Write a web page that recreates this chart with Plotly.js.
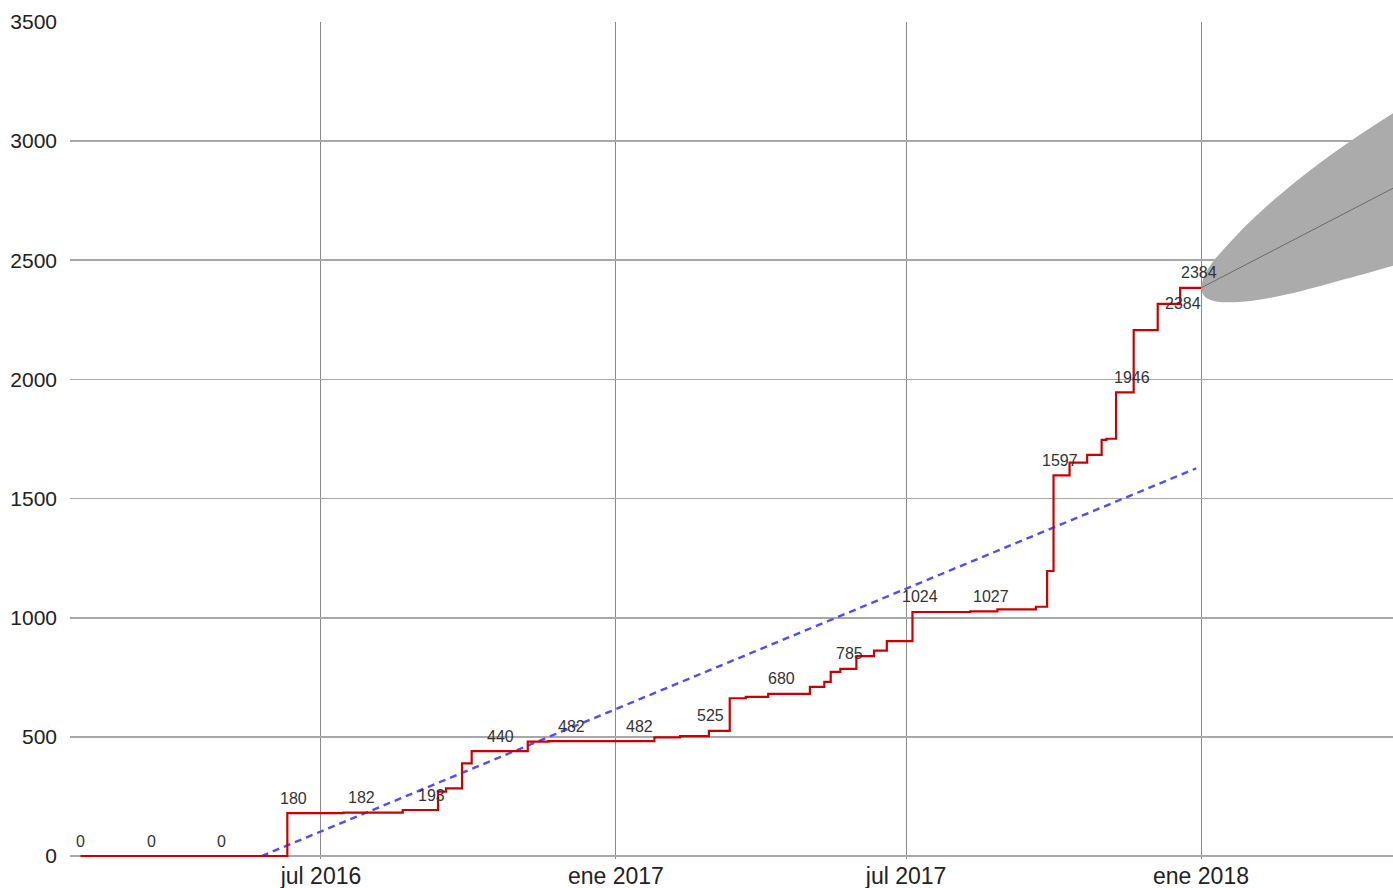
<!DOCTYPE html>
<html>
<head>
<meta charset="utf-8">
<script src="https://cdn.plot.ly/plotly-3.0.1.min.js"></script>
<style>html,body{margin:0;padding:0;background:#fff;}#chart{width:1393px;height:888px;}</style>
</head>
<body>
<div id="chart"></div>
<script>
// Cumulative series (step points: date where the value changes, new value)
const stepDates = ['2016-02-02','2016-06-10','2016-07-15','2016-08-21','2016-09-12','2016-09-17','2016-09-27','2016-10-03','2016-11-07','2016-11-20','2017-01-25','2017-02-10','2017-02-28','2017-03-13','2017-03-23','2017-04-06','2017-05-02','2017-05-11','2017-05-15','2017-05-21','2017-05-31','2017-06-11','2017-06-19','2017-07-05','2017-08-10','2017-08-27','2017-09-20','2017-09-27','2017-10-01','2017-10-11','2017-10-22','2017-10-31','2017-11-03','2017-11-09','2017-11-20','2017-12-05','2017-12-19','2018-01-01'];
const stepValues = [0,180,182,193,270,284,389,440,480,482,498,503,525,662,668,680,710,731,773,785,839,862,902,1024,1027,1035,1046,1196,1597,1651,1683,1746,1751,1946,2207,2317,2384,2384];

// Point labels
const labelDates = ['2016-02-02','2016-03-17','2016-04-30','2016-06-14','2016-07-26','2016-09-08','2016-10-21','2016-12-04','2017-01-16','2017-03-01','2017-04-14','2017-05-27','2017-07-10','2017-08-23','2017-10-05','2017-11-19','2017-12-21','2017-12-31'];
const labelValues = [0,0,0,180,182,193,440,482,482,525,680,785,1024,1027,1597,1946,2384,2384];

// Linear trend
const trendDates = ['2016-05-25','2017-12-29'];
const trendValues = [0,1627];

// Forecast cone
const fcDates  = ['2018-01-01','2018-01-03','2018-01-08','2018-01-15','2018-02-01','2018-03-01','2018-04-01','2018-05-01'];
const fcCenter = [2384,2391,2408,2433,2492,2590,2698,2803];
const fcLower  = [2384,2350,2331,2324,2329,2365,2421,2478];
const fcUpper  = [2384,2435,2490,2545,2665,2830,2985,3118];

// Axis ticks
const xTickDates  = ['2016-07-01','2017-01-01','2017-07-01','2018-01-01'];
const xTickLabels = ['jul 2016','ene 2017','jul 2017','ene 2018'];
const yTickValues = [0,500,1000,1500,2000,2500,3000,3500];

const traces = [
  {x: fcDates, y: fcLower, mode:'lines', line:{width:0, shape:'spline'}, hoverinfo:'skip'},
  {x: fcDates, y: fcUpper, mode:'lines', line:{width:0, shape:'spline'}, fill:'tonexty', fillcolor:'#ababab', hoverinfo:'skip'},
  {x: fcDates, y: fcCenter, mode:'lines', line:{width:1, color:'#6a6a6a'}},
  {x: trendDates, y: trendValues, mode:'lines', line:{width:2.4, color:'#4d4dff', dash:'7px,5px'}},
  {x: stepDates, y: stepValues, mode:'lines', line:{width:2.2, color:'#cc0000', shape:'hv'}}
];

const annotations = labelDates.map((d, i) => ({
  x: d, y: labelValues[i], text: String(labelValues[i]),
  showarrow: false, xanchor:'center', yanchor:'middle',
  yshift: (i === labelDates.length - 2) ? -16 : 15,
  font: {family:'Liberation Sans, Arial, sans-serif', size:16, color:'#333'}
}));

const layout = {
  width: 1393, height: 888,
  margin: {l:70, r:0, t:22, b:29, pad:0},
  paper_bgcolor:'#fff', plot_bgcolor:'#fff',
  showlegend:false,
  font:{family:'Liberation Sans, Arial, sans-serif', color:'#222'},
  xaxis: {
    type:'date', range:['2016-01-26 10:00','2018-04-30 18:43'],
    tickmode:'array', tickvals:xTickDates, ticktext:xTickLabels,
    showgrid:true, gridcolor:'#8a8a8a', gridwidth:1,
    zeroline:false, showline:false, ticks:'',
    tickfont:{size:23, color:'#222'}, ticklabelstandoff:1
  },
  yaxis: {
    range:[-12.6,3500], tickmode:'array', tickvals:yTickValues,
    showgrid:true, gridcolor:'#a8a8a8', gridwidth:1.6,
    zeroline:true, zerolinecolor:'#a8a8a8', zerolinewidth:1.6,
    showline:false, ticks:'',
    tickfont:{size:21, color:'#222'}, ticklabelstandoff:12
  },
  annotations: annotations
};

Plotly.newPlot('chart', traces, layout, {displayModeBar:false, staticPlot:true});
</script>
</body>
</html>
